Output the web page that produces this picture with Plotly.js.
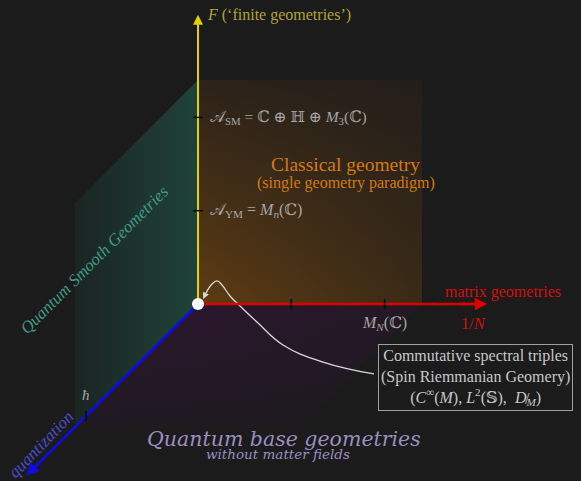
<!DOCTYPE html>
<html><head><meta charset="utf-8">
<script src="https://cdn.plot.ly/plotly-3.0.1.min.js"></script>
<style>html,body{margin:0;padding:0;background:#1b1b1b;}#chart{width:581px;height:481px;}</style>
</head><body><div id="chart"></div>
<script>
// Conceptual coordinates: u = 1/N (matrix geometries), f = F (finite geometries), q = quantization (oblique)
const axisLabels = ['1/N', 'F', 'quantization'];
const axisLengths = [3.1, 3.1, 2.3];           // u, f, q
const uTicks = [1, 2];
const uTickLabels = ['', '<i>M<sub>N</sub></i>(ℂ)'];
const fTicks = [1, 2];
const fTickLabels = ['𝒜<sub>YM</sub> = <i>M<sub>n</sub></i>(ℂ)', '𝒜<sub>SM</sub> = ℂ ⊕ ℍ ⊕ <i>M</i><sub>3</sub>(ℂ)'];
const qTicks = [1.5];
const qTickLabels = ['<i>ħ</i>'];
const classicalExtent = [2.4, 2.4];            // u, f
const quantumExtent = 1.65;                     // q
const curveU = [1.886, 1.340, 0.911, 0.632, 0.450, 0.343, 0.257, 0.204, 0.150, 0.086];
const curveF = [-0.750, -0.622, -0.439, -0.193, -0.021, 0.086, 0.204, 0.247, 0.214, 0.118];
const curveTip = [0.054, 0.054];
const regionNames = ['Classical geometry', 'Quantum Smooth Geometries', 'Quantum base geometries'];

const K = 0.8;       // oblique projection of q
const S = 93.3;      // pixels per unit
function P(u, f, q) { return [u - K * q, f - K * q]; }
function poly(pts) { return {x: pts.map(p => p[0]).concat([pts[0][0]]), y: pts.map(p => p[1]).concat([pts[0][1]])}; }

const BG = '#1b1b1b';
const serif = 'Liberation Serif, DejaVu Serif, serif';
const wideSerif = 'DejaVu Serif, serif';
const [cu, cf] = classicalExtent, Q = quantumExtent;

const orange = poly([P(0,0,0), P(cu,0,0), P(cu,cf,0), P(0,cf,0)]);
const green = poly([P(0,0,0), P(0,cf,0), P(0,cf,Q), P(0,0,Q)]);
const purple = poly([P(0,0,0), P(cu,0,0), P(cu,0,Q), P(0,0,Q)]);

function fillTrace(pg, type, c0, c1) {
  return {x: pg.x, y: pg.y, mode: 'lines', line: {width: 0}, fill: 'toself', hoverinfo: 'skip',
    fillcolor: 'rgba(0,0,0,0)', fillgradient: {type: type, colorscale: [[0, c0], [1, c1]]}};
}

const traces = [
  fillTrace(orange, 'vertical', '#5e3c12', '#2c2219'),
  fillTrace(orange, 'horizontal', 'rgba(27,27,27,0)', 'rgba(27,27,27,0.55)'),
  fillTrace(green, 'horizontal', '#1a2522', '#1f4339'),
  fillTrace(purple, 'vertical', '#1f1a22', '#2e1531'),
  fillTrace(purple, 'horizontal', 'rgba(27,27,27,0)', 'rgba(27,27,27,0.55)'),
];

// tick marks
const tl = 5 / S;
const tickX = [], tickY = [];
uTicks.forEach(t => { tickX.push(t, t, null); tickY.push(-tl, tl, null); });
fTicks.forEach(t => { tickX.push(-tl, tl, null); tickY.push(t, t, null); });
qTicks.forEach(t => { const p = P(0,0,t); tickX.push(p[0], p[0], null); tickY.push(p[1]-tl, p[1]+tl, null); });

// curve
traces.push({x: curveU, y: curveF, mode: 'lines', line: {color: '#d8d8d8', width: 1.3, shape: 'spline', smoothing: 1.2}, hoverinfo: 'skip'});

const axU = P(axisLengths[0],0,0), axF = P(0,axisLengths[1],0), axQ = P(0,0,axisLengths[2]);
const axisColors = ['#e00000', '#e6cf00', '#0c0ce6'];
traces.push({x: [0, axU[0]*0.98], y: [0, 0], mode: 'lines', line: {color: axisColors[0], width: 2.5}, hoverinfo: 'skip'});
traces.push({x: [0, 0], y: [0, axF[1]*0.98], mode: 'lines', line: {color: axisColors[1], width: 2}, hoverinfo: 'skip'});
traces.push({x: [0, axQ[0]*0.98], y: [0, axQ[1]*0.98], mode: 'lines', line: {color: axisColors[2], width: 2.5}, hoverinfo: 'skip'});
traces.push({x: tickX, y: tickY, mode: 'lines', line: {color: '#0a0a0a', width: 1.5}, hoverinfo: 'skip'});
traces.push({x: [0], y: [0], mode: 'markers', marker: {color: '#ffffff', size: 12}, hoverinfo: 'skip'});

function arrow(tip, from, color, w) {
  return {x: tip[0], y: tip[1], ax: from[0], ay: from[1], xref: 'x', yref: 'y', axref: 'x', ayref: 'y',
    text: '', showarrow: true, arrowhead: 2, arrowsize: 1, arrowwidth: w, arrowcolor: color};
}
function txt(x, y, text, color, size, extra, fam) {
  return Object.assign({x: x, y: y, xref: 'x', yref: 'y', text: text, showarrow: false,
    font: {family: fam || serif, size: size, color: color}}, extra || {});
}

const boxC = [2.969, -0.793];
const annotations = [
  arrow(axU, [axU[0]*0.9, 0], axisColors[0], 2.5),
  arrow(axF, [0, axF[1]*0.9], axisColors[1], 2),
  arrow(axQ, [axQ[0]*0.9, axQ[1]*0.9], axisColors[2], 2.5),
  arrow(curveTip, [curveU[curveU.length-1], curveF[curveF.length-1]], '#d8d8d8', 1.3),
  txt(0.075, 3.097, '<i>F</i> (‘finite geometries’)', '#b0a238', 16, {xanchor: 'left'}),
  txt(0.107, fTicks[1], fTickLabels[1], '#a6a6a6', 15.5, {xanchor: 'left'}),
  txt(0.107, fTicks[0], fTickLabels[0], '#a6a6a6', 16, {xanchor: 'left'}),
  txt(1.586, 1.49, regionNames[0], '#d37a14', 19.5),
  txt(1.586, 1.297, '(single geometry paradigm)', '#d37a14', 16),
  txt(-1.104, 0.472, '<i>' + regionNames[1] + '</i>', '#3f9a88', 17, {textangle: -45}),
  txt(3.269, 0.129, 'matrix geometries', '#d01010', 16),
  txt(2.958, -0.204, '1/<i>N</i>', '#d01010', 16.5),
  txt(uTicks[1], -0.204, uTickLabels[1], '#a6a6a6', 16),
  txt(P(0,0,qTicks[0])[0], P(0,0,qTicks[0])[1] + 0.23, qTickLabels[0], '#a6a6a6', 15),
  txt(-1.68, -1.51, '<i>' + axisLabels[2] + '</i>', '#4b4bc8', 17, {textangle: -46}),
  txt(0.922, -1.445, '<i>' + regionNames[2] + '</i>', '#9a8fc0', 20.5, {}, wideSerif),
  txt(0.857, -1.605, '<i>without matter fields</i>', '#9a8fc0', 13.5, {}, wideSerif),
  txt(boxC[0], boxC[1], 'Commutative spectral triples<br>(Spin Riemmanian Geomery)<br>(<i>C</i><sup>∞</sup>(<i>M</i>), <i>L</i><sup>2</sup>(𝕊),  <i>D<sub>M</sub></i>)',
      '#c8c8c8', 16, {bgcolor: BG, bordercolor: '#a0a0a0', borderwidth: 1, borderpad: 2}),
  txt(boxC[0] + 0.56, boxC[1] - 0.215, '/', '#c8c8c8', 16),
];

const layout = {
  width: 581, height: 481, margin: {l: 0, r: 0, t: 0, b: 0},
  paper_bgcolor: BG, plot_bgcolor: BG, showlegend: false,
  xaxis: {range: [-198 / S, 383 / S], visible: false, fixedrange: true},
  yaxis: {range: [-177 / S, 304 / S], visible: false, fixedrange: true},
  annotations: annotations,
};
Plotly.newPlot('chart', traces, layout, {staticPlot: true});
</script></body></html>
